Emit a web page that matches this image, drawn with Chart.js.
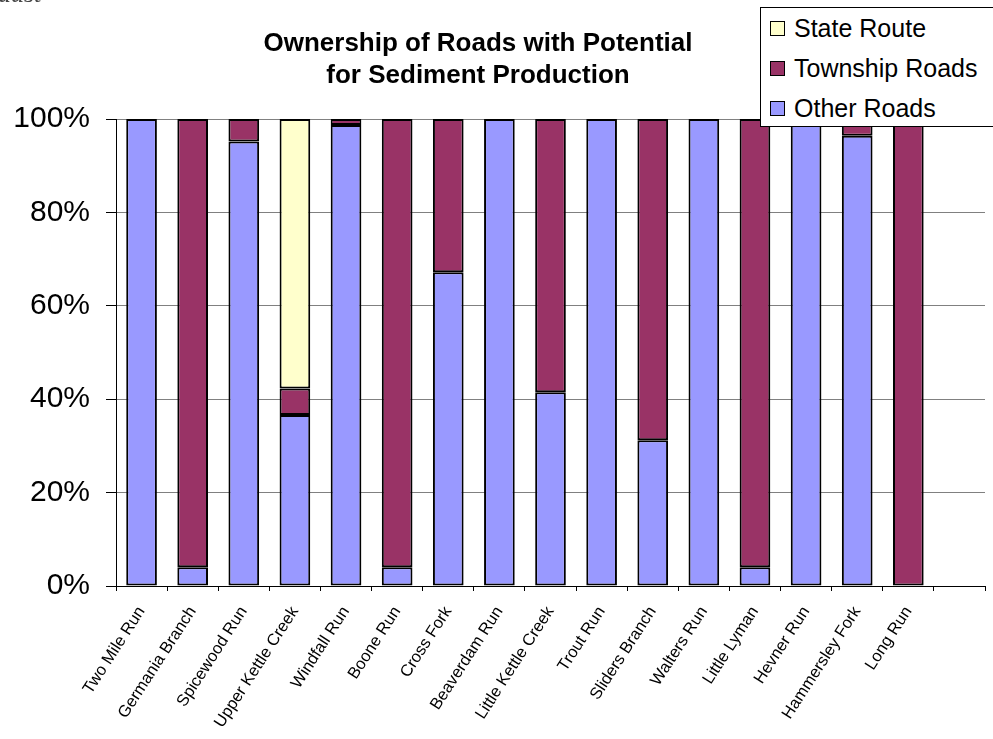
<!DOCTYPE html>
<html>
<head>
<meta charset="utf-8">
<script src="https://cdn.jsdelivr.net/npm/chart.js@4"></script>
<style>
  body { margin: 0; background: #fff; }
  #wrap { position: relative; width: 993px; height: 739px; overflow: hidden; font-family: "Liberation Sans", Arial, sans-serif; }
  #grafico { position: absolute; left: 0; top: 0; }
  #corner { position: absolute; left: -2px; top: -21px; font: italic 26px "Liberation Serif", serif; line-height: 30px; color: #444; }
  #titulo { position: absolute; left: 178px; width: 600px; top: 26px; text-align: center; font-weight: bold; font-size: 26px; line-height: 32px; color: #000; }
  #leyenda { position: absolute; left: 760px; top: 7px; width: 300px; height: 118px; border: 1px solid #000; background: #fff; }
  .item { position: absolute; left: 9px; font-size: 25px; line-height: 30px; color: #000; }
  .item span { display: inline-block; width: 13px; height: 13px; border: 1px solid #000; margin-right: 9px; vertical-align: 1px; }
</style>
</head>
<body>
<div id="wrap">
  <canvas id="grafico" width="993" height="739"></canvas>
  <div id="corner">aust</div>
  <div id="titulo">Ownership of Roads with Potential<br>for Sediment Production</div>
  <div id="leyenda">
    <div class="item" style="top:5px"><span style="background:#FFFFCC"></span>State Route</div>
    <div class="item" style="top:45px"><span style="background:#993366"></span>Township Roads</div>
    <div class="item" style="top:85px"><span style="background:#9999FF"></span>Other Roads</div>
  </div>
</div>
<script>
// porcentaje de caminos por tipo de propietario en cada cuenca
const cuencas = ["Two Mile Run", "Germania Branch", "Spicewood Run", "Upper Kettle Creek", "Windfall Run",
  "Boone Run", "Cross Fork", "Beaverdam Run", "Little Kettle Creek", "Trout Run", "Sliders Branch",
  "Walters Run", "Little Lyman", "Hevner Run", "Hammersley Fork", "Long Run", ""];
const otrosCaminos = [100, 4, 95.2, 36.6, 98.7, 4, 67.2, 100, 41.5, 100, 31.2, 100, 4, 100, 96.4, null, null];
const caminosMunicipales = [null, 96, 4.8, 5.7, 1.3, 96, 32.8, null, 58.5, null, 68.8, null, 96, null, 3.6, 100, null];
const rutaEstatal = [null, null, null, 57.7, null, null, null, null, null, null, null, null, null, null, null, null, null];
const ticksY = [0, 20, 40, 60, 80, 100];

function generarGrafico() {
  const ctx = document.getElementById('grafico').getContext('2d');
  new Chart(ctx, {
    type: 'bar',
    data: {
      labels: cuencas,
      datasets: [
        { label: 'Other Roads', data: otrosCaminos, backgroundColor: '#9999FF' },
        { label: 'Township Roads', data: caminosMunicipales, backgroundColor: '#993366' },
        { label: 'State Route', data: rutaEstatal, backgroundColor: '#FFFFCC' }
      ].map(d => Object.assign(d, {
        borderColor: '#000', borderWidth: 2, borderSkipped: false,
        categoryPercentage: 1, barPercentage: 0.6
      }))
    },
    options: {
      responsive: false,
      animation: false,
      layout: { padding: { top: 119, right: 8, left: 0, bottom: 0 } },
      plugins: { legend: { display: false }, title: { display: false }, tooltip: { enabled: false } },
      scales: {
        x: {
          stacked: true,
          grid: { offset: true, drawOnChartArea: false, tickLength: 5, tickColor: '#000' },
          border: { color: '#000', width: 1 },
          ticks: {
            color: '#000', font: { family: 'Liberation Sans', size: 16.5 },
            minRotation: 57, maxRotation: 57, autoSkip: false, padding: 12
          },
          afterFit: s => { s.height = 153; }
        },
        y: {
          stacked: true,
          min: 0, max: 100,
          afterBuildTicks: s => { s.ticks = ticksY.map(v => ({ value: v })); },
          grid: { color: '#808080', tickColor: '#000', tickLength: 10, lineWidth: 1 },
          border: { color: '#000', width: 1 },
          ticks: {
            color: '#000', font: { family: 'Liberation Sans', size: 30 }, padding: 16,
            callback: v => v + '%'
          },
          afterFit: s => { s.width = 116; }
        }
      }
    }
  });
}

generarGrafico();
</script>
</body>
</html>
